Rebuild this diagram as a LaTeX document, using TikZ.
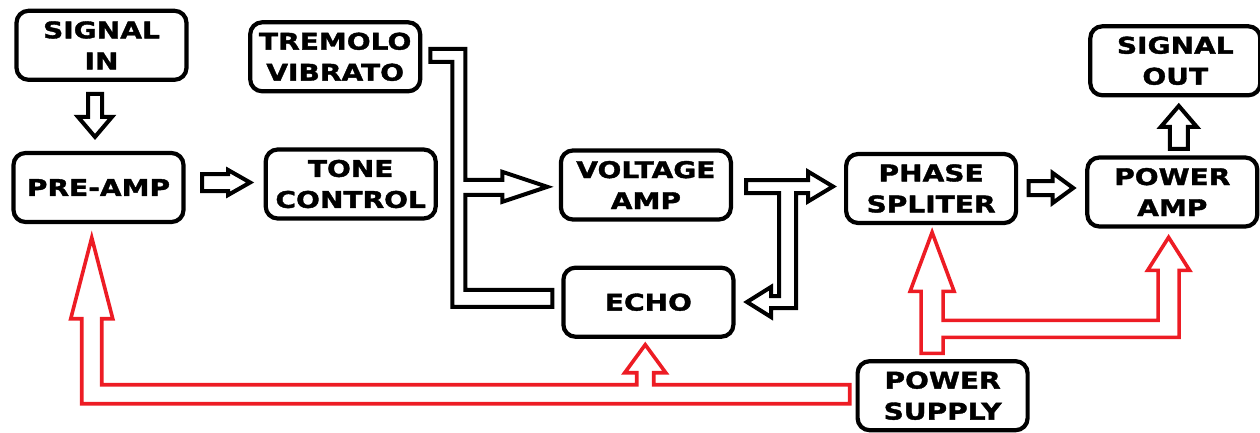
\documentclass[tikz,border=0pt]{standalone}
\usepackage{fontspec}
\usepackage{xcolor}
\usepackage{tikz}
\usetikzlibrary{positioning}
\newfontfamily\blockfont{DejaVu Sans}[FakeStretch=1.22, BoldFeatures={FakeBold=1.6}]
\definecolor{psred}{HTML}{ED1C24}
\tikzset{
  box/.style={rectangle, draw=black, line width=4.2pt, rounded corners=12pt, align=center, minimum width=170pt, minimum height=69pt, inner sep=2pt, font={\blockfont\bfseries\fontsize{23}{31}\selectfont}},
  signal/.style={draw=black, line width=4pt, line join=miter},
  power/.style={draw=psred, line width=3.6pt, line join=miter},
}
\begin{document}
\begin{tikzpicture}[x=1pt, y=1pt]
  \useasboundingbox (0,0) rectangle (1260,-433);
  \node[box] (preamp) at (98.5,-187.5) {PRE-AMP};
  \node[box, above=69pt of preamp, xshift=3pt] (sigin) {SIGNAL\\IN};
  \node[box, right=78pt of preamp, yshift=3.5pt] (tone) {TONE\\CONTROL};
  \node[box, above=54pt of tone, xshift=-15.5pt] (trem) {TREMOLO\\VIBRATO};
  \node[box, right=121pt of tone, yshift=-1pt] (volt) {VOLTAGE\\AMP};
  \node[box, below=44pt of volt, xshift=2.5pt] (echo) {ECHO};
  \node[box, right=111pt of volt, yshift=-3.5pt] (phase) {PHASE\\SPLITER};
  \node[box, right=67pt of phase, yshift=-3.5pt] (pamp) {POWER\\AMP};
  \node[box, above=58pt of pamp, xshift=3pt] (sigout) {SIGNAL\\OUT};
  \node[box, below=134pt of phase, xshift=11.5pt] (supply) {POWER\\SUPPLY};
  % signal chain
  \draw[signal] ([xshift=-13.5pt,yshift=-12pt]sigin.south) -- ++(0,-23) -- ++(-10,0) -- ++(17,-20) -- ++(17,20) -- ++(-10,0) -- ++(0,23) -- cycle;
  \draw[signal] ([xshift=16.5pt,yshift=13.5pt]preamp.east) -- ++(26,0) -- ++(0,4) -- ++(22,-12.5) -- ++(-22,-12.5) -- ++(0,4) -- ++(-26,0) -- cycle;
  \draw[signal] ([xshift=8pt,yshift=8pt]trem.east) -- ++(35,0) -- ++(0,-131) -- ++(37,0) -- ++(0,8) -- ++(45,-15) -- ++(-45,-15) -- ++(0,7) -- ++(-37,0) -- ++(0,-95) -- ++(87,0) -- ++(0,-17) -- ++(-100,0) -- ++(0,245) -- ++(-22,0) -- cycle;
  \draw[signal] ([xshift=13pt,yshift=5pt]volt.east) -- ++(62,0) -- ++(0,8.5) -- ++(25,-15) -- ++(-25,-15) -- ++(0,8.5) -- ++(-12,0) -- ++(0,-115) -- ++(-25,0) -- ++(0,-9) -- ++(-24,15) -- ++(24,15) -- ++(0,-9) -- ++(8,0) -- ++(0,103) -- ++(-33,0) -- cycle;
  \draw[signal] ([xshift=10.5pt,yshift=7.5pt]phase.east) -- ++(24,0) -- ++(0,8) -- ++(20.5,-15) -- ++(-20.5,-15) -- ++(0,8) -- ++(-24,0) -- cycle;
  \draw[signal] ([xshift=-2.5pt,yshift=6.5pt]pamp.north) -- ++(0,22) -- ++(-9,0) -- ++(18,21) -- ++(18,-21) -- ++(-9,0) -- ++(0,-22) -- cycle;
  % supply lines
  \draw[power] ([xshift=-5.75pt,yshift=11pt]supply.west) -- ++(0,-19) -- ++(-768,0) -- ++(0,85) -- ++(-11,0) -- ++(21,81) -- ++(21,-81) -- ++(-11,0) -- ++(0,-66) -- ++(535,0) -- ++(0,12) -- ++(-12,0) -- ++(20.5,28) -- ++(20.5,-28) -- ++(-12,0) -- ++(0,-12) -- cycle;
  \draw[power] ([xshift=-21.5pt,yshift=5.75pt]supply.north) -- ++(0,62) -- ++(-11,0) -- ++(22,59) -- ++(22,-59) -- ++(-11,0) -- ++(0,-29) -- ++(215,0) -- ++(0,50) -- ++(-10.5,0) -- ++(21,33) -- ++(21,-33) -- ++(-10.5,0) -- ++(0,-67) -- ++(-236,0) -- ++(0,-16) -- cycle;
\end{tikzpicture}
\end{document}
